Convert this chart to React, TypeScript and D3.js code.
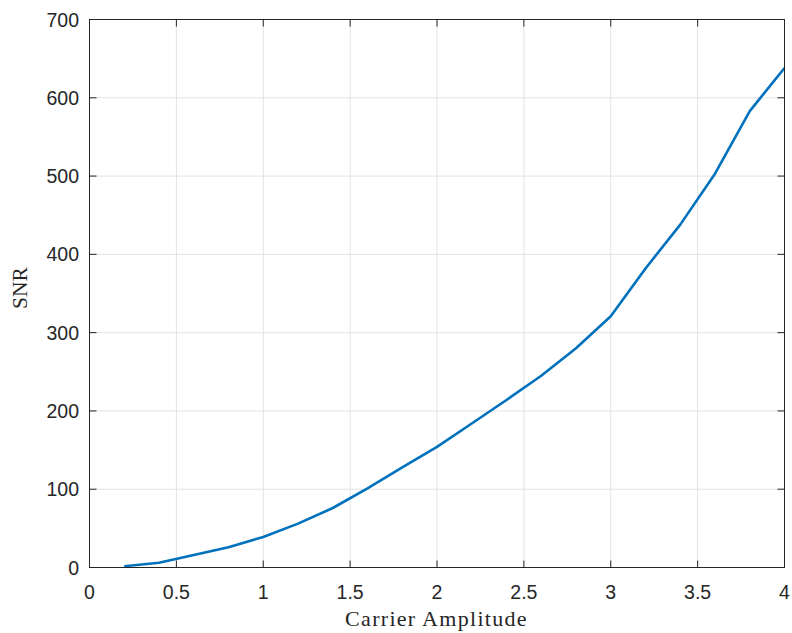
import React from 'react';
import * as d3 from 'd3';

// carrier amplitude vs measured SNR
const amplitude = [0.2, 0.4, 0.6, 0.8, 1.0, 1.2, 1.4, 1.6, 1.8, 2.0, 2.2, 2.4, 2.6, 2.8, 3.0, 3.2, 3.4, 3.6, 3.8, 4.0];
const snr = [1.5, 6, 16, 26, 39, 56, 76, 101, 128, 154, 184, 214, 245, 280, 321, 382, 438, 503, 583, 638];

const xTicks = [0, 0.5, 1, 1.5, 2, 2.5, 3, 3.5, 4];
const yTicks = [0, 100, 200, 300, 400, 500, 600, 700];

const W = 792;
const H = 633;
const left = 89.5;
const right = 784.5;
const top = 19.5;
const bottom = 567.5;

const axisColor = '#262626';
const gridColor = '#e3e3e3';
const tickFont = 'Liberation Sans, Arial, sans-serif';
const labelFont = 'Liberation Serif, Times New Roman, serif';

const App = () => {
  const x = d3.scaleLinear().domain([0, 4]).range([left, right]);
  const y = d3.scaleLinear().domain([0, 700]).range([bottom, top]);

  const line = d3.line<number>()
    .x((_, i) => x(amplitude[i]))
    .y(d => y(d));

  return (
    <svg width={W} height={H} style={{ position: 'absolute', left: 0, top: 0, background: '#fff' }}>
      {/* grid */}
      {xTicks.slice(1, -1).map(t => (
        <line key={'gx' + t} x1={x(t)} x2={x(t)} y1={top} y2={bottom} stroke={gridColor} strokeWidth={1} />
      ))}
      {yTicks.slice(1, -1).map(t => (
        <line key={'gy' + t} x1={left} x2={right} y1={y(t)} y2={y(t)} stroke={gridColor} strokeWidth={1} />
      ))}

      {/* data */}
      <path d={line(snr) || ''} fill="none" stroke="#0072BD" strokeWidth={2.6} strokeLinejoin="round" />

      {/* box */}
      <rect x={left} y={top} width={right - left} height={bottom - top} fill="none" stroke={axisColor} strokeWidth={1} />

      {/* ticks */}
      {xTicks.map(t => (
        <g key={'tx' + t}>
          <line x1={x(t)} x2={x(t)} y1={bottom} y2={bottom - 7} stroke={axisColor} />
          <line x1={x(t)} x2={x(t)} y1={top} y2={top + 7} stroke={axisColor} />
          <text x={x(t)} y={599} textAnchor="middle" fontFamily={tickFont} fontSize={19.5} fill={axisColor}>{t}</text>
        </g>
      ))}
      {yTicks.map(t => (
        <g key={'ty' + t}>
          <line x1={left} x2={left + 7} y1={y(t)} y2={y(t)} stroke={axisColor} />
          <line x1={right} x2={right - 7} y1={y(t)} y2={y(t)} stroke={axisColor} />
          <text x={79} y={y(t)} dy="0.36em" textAnchor="end" fontFamily={tickFont} fontSize={19.5} fill={axisColor}>{t}</text>
        </g>
      ))}

      {/* axis labels */}
      <text x={436.5} y={626} textAnchor="middle" fontFamily={labelFont} fontSize={22} letterSpacing={1.3} fill={axisColor}>Carrier Amplitude</text>
      <text transform="translate(27,288) rotate(-90)" textAnchor="middle" fontFamily={labelFont} fontSize={21.5} fill={axisColor}>SNR</text>
    </svg>
  );
};

export default App;
